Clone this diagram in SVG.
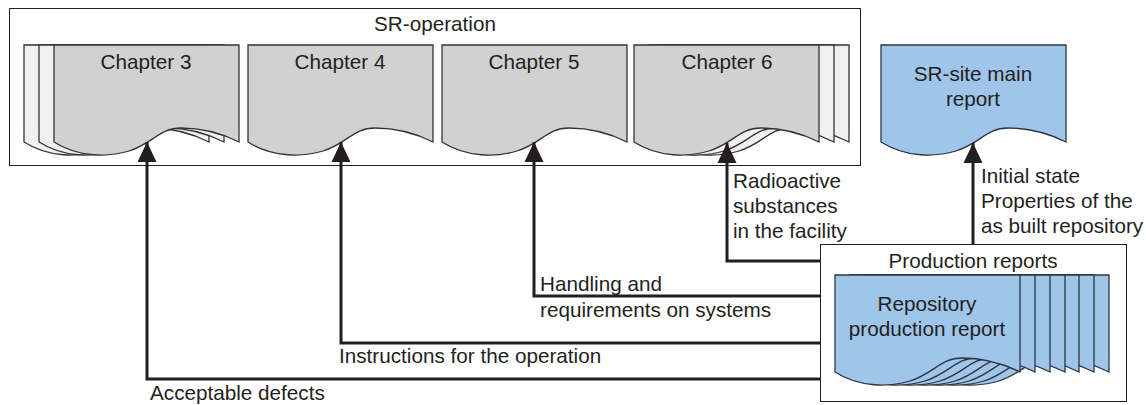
<svg xmlns="http://www.w3.org/2000/svg" width="1146" height="405" viewBox="0 0 1146 405">
<style>
text{font-family:"Liberation Sans",Arial,sans-serif;font-size:20.7px;fill:#231f20}
.m{text-anchor:middle}
.box{fill:#fff;stroke:#231f20;stroke-width:1}
.g{fill:#d1d1d1;stroke:#333;stroke-width:1.3}
.l{fill:#f0f0f0;stroke:#333;stroke-width:1.3}
.b{fill:#9fc5ea;stroke:#2c3640;stroke-width:1.3}
.c{fill:none;stroke:#231f20;stroke-width:3}
</style>
<defs>
<path id="doc" d="M0,0H185V97C165,87 145,83 127,83C105,83 100,98 75,106C55,112 25,113 0,97Z"/>
<marker id="a" markerUnits="userSpaceOnUse" markerWidth="21" markerHeight="20" refX="20" refY="10" orient="auto"><path d="M0,0.5L20,10L0,19.5Z" fill="#231f20"/></marker>
</defs>
<g id="sr-operation">
<rect class="box" x="9.5" y="8.5" width="851" height="157"/>
<text class="m" x="435" y="31">SR-operation</text>
</g>
<g id="chapter-3">
<use href="#doc" class="l" x="24" y="45"/>
<use href="#doc" class="l" x="39" y="45"/>
<use href="#doc" class="g" x="54" y="45"/>
<text class="m" x="146" y="69">Chapter 3</text>
</g>
<g id="chapter-4">
<use href="#doc" class="g" x="248" y="45"/>
<text class="m" x="340" y="69">Chapter 4</text>
</g>
<g id="chapter-5">
<use href="#doc" class="g" x="442" y="45"/>
<text class="m" x="534" y="69">Chapter 5</text>
</g>
<g id="chapter-6">
<use href="#doc" class="l" x="664" y="45"/>
<use href="#doc" class="l" x="649" y="45"/>
<use href="#doc" class="g" x="634" y="45"/>
<text class="m" x="727" y="69">Chapter 6</text>
</g>
<g id="sr-site">
<use href="#doc" class="b" x="881" y="45"/>
<text class="m" x="973" y="81">SR-site main</text>
<text class="m" x="973" y="106">report</text>
</g>
<g id="production-reports">
<rect class="box" x="820.5" y="244.5" width="306" height="157"/>
<text class="m" x="973" y="268">Production reports</text>
<use href="#doc" class="b" x="924" y="275"/>
<use href="#doc" class="b" x="909" y="275"/>
<use href="#doc" class="b" x="894" y="275"/>
<use href="#doc" class="b" x="880" y="275"/>
<use href="#doc" class="b" x="865" y="275"/>
<use href="#doc" class="b" x="850" y="275"/>
<use href="#doc" class="b" x="835" y="275"/>
<text class="m" x="927" y="311">Repository</text>
<text class="m" x="927" y="336">production report</text>
</g>
<g id="connectors">
<path class="c" marker-end="url(#a)" d="M820,379H147V142"/>
<path class="c" marker-end="url(#a)" d="M820,343H341V142"/>
<path class="c" marker-end="url(#a)" d="M820,296H534V142"/>
<path class="c" marker-end="url(#a)" d="M820,261H727V143"/>
<path class="c" marker-end="url(#a)" d="M973,244V143"/>
</g>
<g id="labels">
<text x="150" y="400">Acceptable defects</text>
<text x="339" y="363">Instructions for the operation</text>
<text x="540" y="291">Handling and</text>
<text x="540" y="317">requirements on systems</text>
<text x="733" y="188">Radioactive</text>
<text x="733" y="213">substances</text>
<text x="733" y="238">in the facility</text>
<text x="981" y="183">Initial state</text>
<text x="981" y="208">Properties of the</text>
<text x="981" y="233">as built repository</text>
</g>
</svg>
